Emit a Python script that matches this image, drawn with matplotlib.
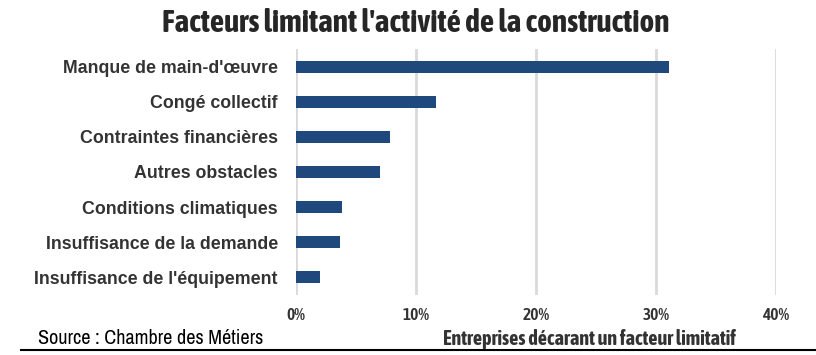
import matplotlib
matplotlib.use("Agg")
import matplotlib.pyplot as plt
from matplotlib import font_manager as fm
from matplotlib.lines import Line2D

categories = [
    "Manque de main-d'œuvre",
    "Congé collectif",
    "Contraintes financières",
    "Autres obstacles",
    "Conditions climatiques",
    "Insuffisance de la demande",
    "Insuffisance de l'équipement",
]
values = [31.1, 11.7, 7.8, 7.0, 3.8, 3.7, 2.0]
xticks = [0, 10, 20, 30, 40]

installed = {f.name for f in fm.fontManager.ttflist}


def pick(*cands):
    for c in cands:
        if c in installed:
            return c
    return "DejaVu Sans"


cond = pick("Asap Condensed", "Roboto Condensed", "Liberation Sans Narrow")
narrow = pick("Archivo Narrow", "Asap Condensed", "Liberation Sans Narrow")
label_font = pick("Liberation Sans", "Arimo")
txt = "#333333"

fig = plt.figure(figsize=(8.16, 3.55), dpi=100)
ax = fig.add_axes([296 / 816, 1 - 295 / 355, 480 / 816, 246 / 355])

ypos = list(range(len(categories)))
ax.barh(ypos, values, height=0.34, color="#1f497d", zorder=3)
ax.set_ylim(len(categories) - 0.5, -0.5)
ax.set_xlim(0, 40)
ax.set_yticks(ypos)
ax.set_yticklabels(categories, fontsize=12.8, fontweight="bold", color=txt,
                   family=label_font)
ax.set_xticks(xticks)
ax.set_xticklabels([f"{t}%" for t in xticks], fontsize=12.5, fontweight="semibold",
                   color=txt, family=cond)
ax.tick_params(axis="y", length=0, pad=13)
ax.tick_params(axis="x", length=0, pad=9)
ax.grid(axis="x", color="#d9d9d9", linewidth=2, zorder=0)
for s in ax.spines.values():
    s.set_visible(False)

fig.text(416 / 816, 1 - 23 / 355, "Facteurs limitant l'activité de la construction",
         ha="center", va="center", fontsize=22.5, fontweight="bold", color="#262626",
         family=cond)
fig.text(589 / 816, 1 - 339 / 355, "Entreprises décarant un facteur limitatif",
         ha="center", va="center", fontsize=14.5, fontweight="bold", color=txt,
         family=cond)
fig.text(38 / 816, 1 - 339 / 355, "Source : Chambre des Métiers",
         ha="left", va="center", fontsize=14.5, color="black", family=narrow)
fig.add_artist(Line2D([21 / 816, 1], [1 - 350 / 355] * 2, color="black",
                      linewidth=1.5, transform=fig.transFigure))

fig.savefig("out.png", dpi=100)
